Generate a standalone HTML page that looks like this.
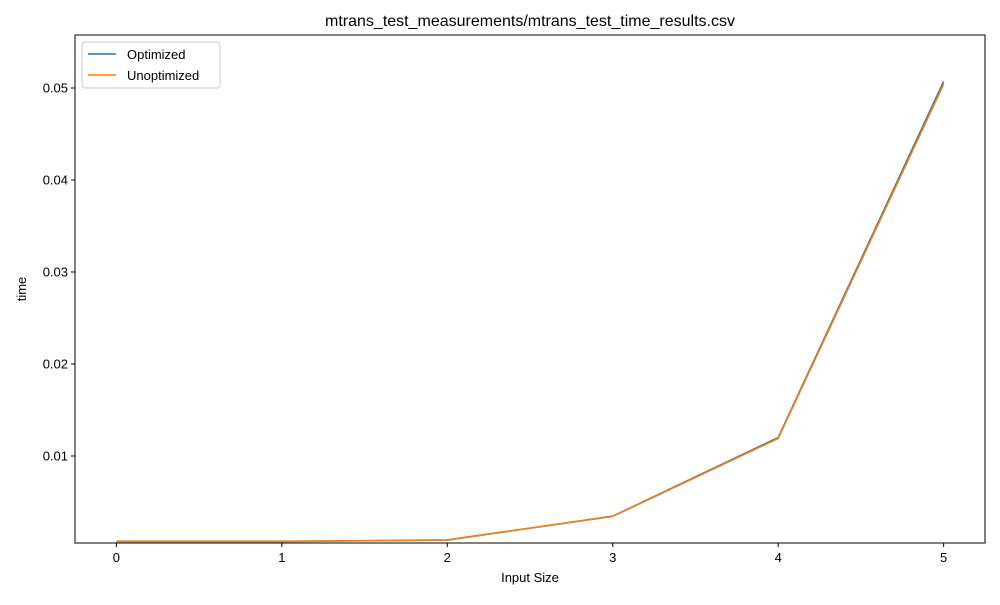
<!DOCTYPE html>
<html><head><meta charset="utf-8"><style>
body{margin:0;background:#fff;font-family:"Liberation Sans","DejaVu Sans",sans-serif}
</style></head><body>
<svg id="chart" width="1000" height="600" xmlns="http://www.w3.org/2000/svg"></svg>
<script>
const categories=[0,1,2,3,4,5];
const optimized=[0.00072,0.00072,0.00087,0.00345,0.0120,0.0507];
const unoptimized=[0.0007,0.0007,0.00085,0.00342,0.0119,0.0504];
const yTicks=[0.01,0.02,0.03,0.04,0.05];
const yTickLabels=["0.01","0.02","0.03","0.04","0.05"];
const NS="http://www.w3.org/2000/svg";
const svg=document.getElementById('chart');
const L=75,R=985,T=35,B=543;
const xmin=-0.25,xmax=5.25,ymin=0.00054,ymax=0.05576;
const xs=v=>L+(v-xmin)/(xmax-xmin)*(R-L);
const ys=v=>B-(v-ymin)/(ymax-ymin)*(B-T);
function mk(tag,attrs,name,text){const e=document.createElementNS(NS,tag);for(const k in attrs)e.setAttribute(k,attrs[k]);


if(text!==undefined)e.textContent=text;svg.appendChild(e);return e;}
mk('rect',{x:L,y:T,width:R-L,height:B-T,fill:'none',stroke:'#000','stroke-width':1},'plot-frame');
categories.forEach(c=>{const x=xs(c);
mk('line',{x1:x,x2:x,y1:B,y2:B+4,stroke:'#000'},'x-tick');
mk('text',{x:x,y:B+19,'text-anchor':'middle','font-size':13},'x-tick-label',String(c));});
yTicks.forEach((t,i)=>{const y=ys(t);
mk('line',{x1:L-4,x2:L,y1:y,y2:y,stroke:'#000'},'y-tick');
mk('text',{x:L-7,y:y+4.5,'text-anchor':'end','font-size':13},'y-tick-label',yTickLabels[i]);});
mk('text',{x:(L+R)/2,y:582,'text-anchor':'middle','font-size':13},'x-axis-title','Input Size');
mk('text',{x:26,y:289,'text-anchor':'middle','font-size':13,transform:'rotate(-90 26 289)'},'y-axis-title','time');
mk('text',{x:(L+R)/2,y:26,'text-anchor':'middle','font-size':16},'chart-title','mtrans_test_measurements/mtrans_test_time_results.csv');
function line(data,color,name){mk('polyline',{points:data.map((v,i)=>xs(categories[i])+','+ys(v)).join(' '),fill:'none',stroke:color,'stroke-width':1.6},name);}
line(optimized,'#1f77b4','optimized-line');
line(unoptimized,'#ff7f0e','unoptimized-line');
mk('rect',{x:82,y:42,width:138,height:46,fill:'#fff',stroke:'#ccc',rx:3},'legend');
mk('line',{x1:88,x2:116,y1:54,y2:54,stroke:'#1f77b4','stroke-width':1.6},'legend-optimized-swatch');
mk('text',{x:127,y:59,'font-size':13},'legend-optimized-label','Optimized');
mk('line',{x1:88,x2:116,y1:75,y2:75,stroke:'#ff7f0e','stroke-width':1.6},'legend-unoptimized-swatch');
mk('text',{x:127,y:80,'font-size':13},'legend-unoptimized-label','Unoptimized');
</script>
</body></html>
